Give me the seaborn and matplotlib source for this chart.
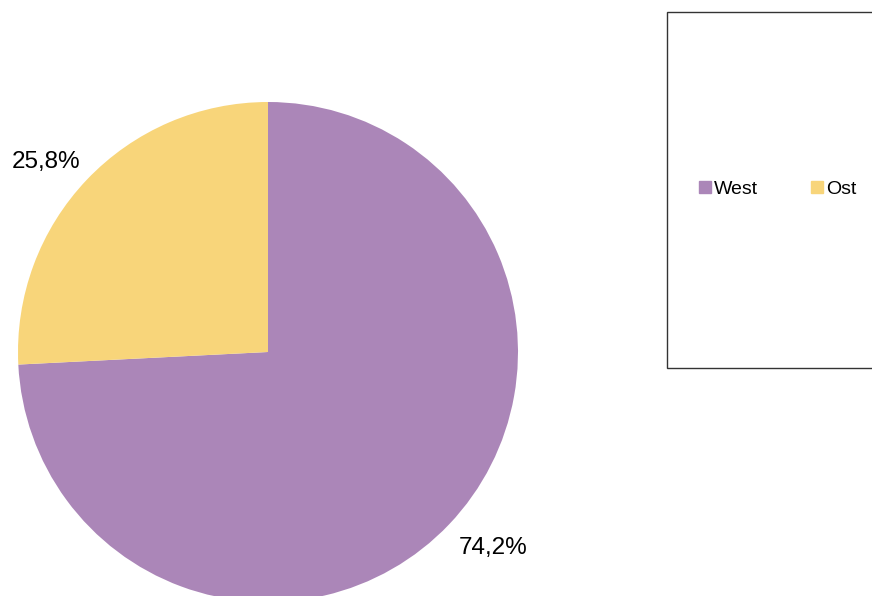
import matplotlib
matplotlib.use("Agg")
import matplotlib.pyplot as plt
import seaborn as sns
from matplotlib.lines import Line2D
from matplotlib.patches import Rectangle

# --- data ---
categories = ["West", "Ost"]
shares = [74.2, 25.8]
colors = ["#ab86b8", "#f8d57a"]

sns.set_theme(style="white")
plt.rcParams["font.family"] = ["Liberation Sans", "DejaVu Sans"]
plt.rcParams["text.color"] = "black"

W, H = 872, 596
fig = plt.figure(figsize=(W / 100, H / 100), dpi=100, facecolor="white")
ax = fig.add_axes([0, 0, 1, 1])

palette = sns.color_palette(colors)
wedges, texts, autotexts = ax.pie(
    shares,
    colors=palette,
    center=(268, H - 352),
    radius=250,
    startangle=90,
    counterclock=False,
    autopct=lambda p: f"{p:.1f}%".replace(".", ","),
    pctdistance=1.19,
    wedgeprops=dict(linewidth=0, edgecolor="none"),
    textprops=dict(fontsize=17.5, color="black"),
    frame=True,
)
ax.set_xlim(0, W)
ax.set_ylim(0, H)
ax.set_aspect("equal")
ax.axis("off")

# nudge the percentage labels a little counter-clockwise, as in the source
for t, (dx, dy) in zip(autotexts, [(10, 9), (-6, -15)]):
    x, y = t.get_position()
    t.set_position((x + dx, y + dy))

# legend box
fig.patches.append(Rectangle((667 / W, 1 - 368 / H), 0.3, 356 / H,
                             transform=fig.transFigure, facecolor="white",
                             edgecolor="#333333", linewidth=1, zorder=0))

handles = [Line2D([], [], marker="s", linestyle="none", markersize=8.5,
                  markerfacecolor=c, markeredgecolor=c) for c in colors]
fig.legend(handles, categories, loc="center left",
           bbox_to_anchor=(688 / W, 1 - 189 / H), ncol=2, frameon=False,
           fontsize=14, handlelength=0.7, handletextpad=0.15,
           columnspacing=2.65, borderpad=0, labelcolor="black")

fig.savefig("out.png", dpi=100, facecolor="white")
